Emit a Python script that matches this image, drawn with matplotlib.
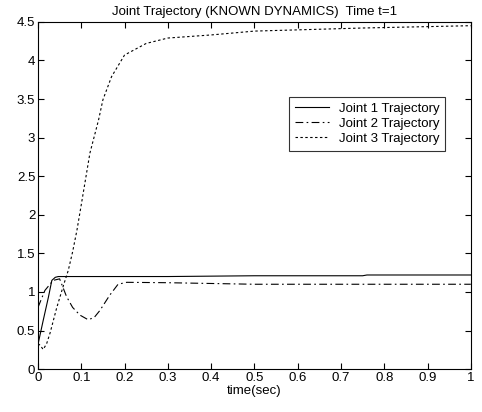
import matplotlib
matplotlib.use("Agg")
import matplotlib.pyplot as plt

plt.rcParams['font.family'] = ['Liberation Sans', 'DejaVu Sans']

# Joint trajectories
t1 = [0, 0.012, 0.024, 0.032, 0.04, 0.047, 0.06, 0.15, 0.3, 0.5, 0.75, 0.76, 1.0]
j1 = [0.32, 0.63, 0.93, 1.15, 1.19, 1.2, 1.2, 1.2, 1.2, 1.21, 1.21, 1.22, 1.22]

t2 = [0, 0.016, 0.035, 0.05, 0.066, 0.08, 0.097, 0.116, 0.13, 0.143,
      0.166, 0.185, 0.205, 0.3, 0.5, 1.0]
j2 = [0.8, 1.02, 1.15, 1.17, 0.94, 0.8, 0.7, 0.64, 0.67, 0.76,
      0.96, 1.1, 1.125, 1.12, 1.1, 1.1]

t3 = [0, 0.005, 0.012, 0.02, 0.028, 0.043, 0.058, 0.07, 0.08, 0.09, 0.1,
      0.12, 0.14, 0.15, 0.17, 0.2, 0.25, 0.3, 0.4, 0.5, 0.75, 1.0]
j3 = [0.33, 0.31, 0.255, 0.33, 0.47, 0.79, 1.07, 1.28, 1.52, 1.8, 2.13,
      2.8, 3.23, 3.49, 3.79, 4.07, 4.22, 4.29, 4.33, 4.38, 4.42, 4.45]

xticks = [0, 0.1, 0.2, 0.3, 0.4, 0.5, 0.6, 0.7, 0.8, 0.9, 1]
yticks = [0, 0.5, 1, 1.5, 2, 2.5, 3, 3.5, 4, 4.5]

fs = 9.5

fig = plt.figure(figsize=(4.82, 4.12), dpi=100)
ax = fig.add_axes([0.0788, 0.104, 0.898, 0.843])

ax.plot(t1, j1, color='black', lw=0.8, ls='-', label='Joint 1 Trajectory')
ax.plot(t2, j2, color='black', lw=0.8, dashes=(7, 3, 1.5, 3), label='Joint 2 Trajectory')
ax.plot(t3, j3, color='black', lw=0.8, dashes=(2.2, 2.2), label='Joint 3 Trajectory')

ax.set_xlim(0, 1)
ax.set_ylim(0, 4.5)
ax.set_xticks(xticks)
ax.set_xticklabels([f'{v:g}' for v in xticks])
ax.set_yticks(yticks)
ax.set_yticklabels([f'{v:g}' for v in yticks])
ax.tick_params(direction='in', top=True, right=True, length=4, width=0.8,
               labelsize=fs, pad=2)
for s in ax.spines.values():
    s.set_linewidth(0.8)

ax.set_xlabel('time(sec)', fontsize=fs, labelpad=1)
ax.set_title('Joint Trajectory (KNOWN DYNAMICS)  Time t=1', fontsize=fs, pad=5)

leg = ax.legend(loc='upper left', bbox_to_anchor=(0.58, 0.785), fontsize=fs,
                frameon=True, fancybox=False, edgecolor='black',
                handlelength=2.6, handletextpad=0.7, borderpad=0.45,
                labelspacing=0.22, borderaxespad=0)
leg.get_frame().set_linewidth(0.8)

fig.savefig('out.png', dpi=100)
